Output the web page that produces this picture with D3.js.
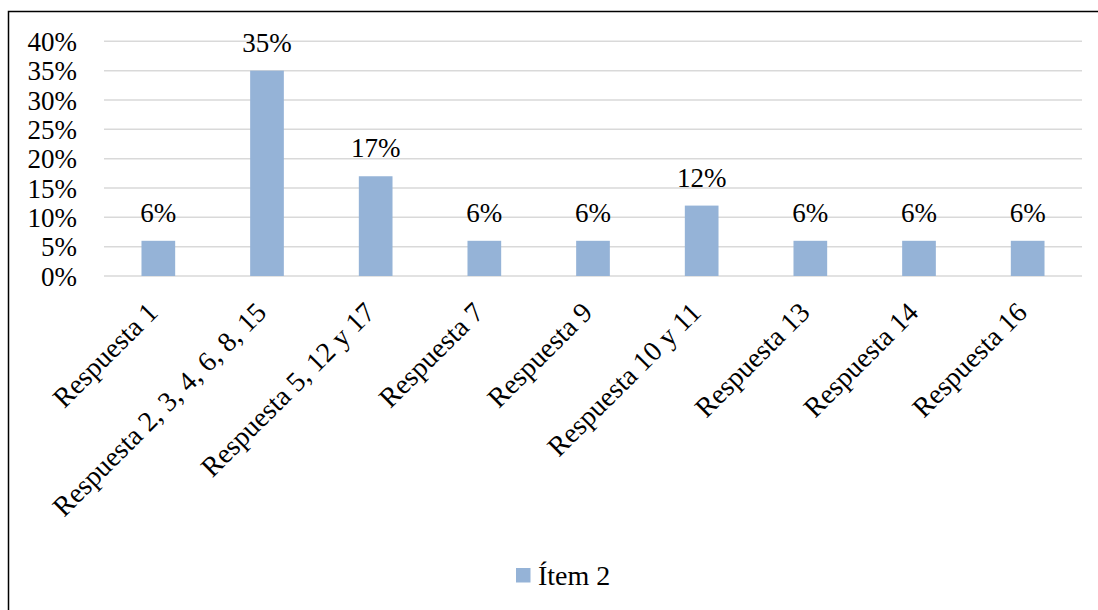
<!DOCTYPE html>
<html>
<head>
<meta charset="utf-8">
<script src="https://cdn.jsdelivr.net/npm/d3@7"></script>
<style>
  body { margin: 0; background: #fff; }
  svg { display: block; font-family: "Liberation Serif", "Times New Roman", serif; }
</style>
</head>
<body>
<svg id="chart" width="1098" height="610"></svg>
<script>
// chart data
var categories = ["Respuesta 1", "Respuesta 2, 3, 4, 6, 8, 15", "Respuesta 5, 12 y 17",
    "Respuesta 7", "Respuesta 9", "Respuesta 10 y 11", "Respuesta 13", "Respuesta 14", "Respuesta 16"];
var values = [6, 35, 17, 6, 6, 12, 6, 6, 6];
var yTicks = [0, 5, 10, 15, 20, 25, 30, 35, 40];
var seriesName = "Ítem 2";

var barColor = "#95b3d7";
var fontSize = 27;
var svg = d3.select("#chart");

// outer frame
svg.append("rect")
    .attr("x", 8.5).attr("y", 11.5)
    .attr("width", 1200).attr("height", 700)
    .attr("fill", "none").attr("stroke", "#000").attr("stroke-width", 1.5);

var x = d3.scaleBand().domain(categories).range([104, 1082]).paddingInner(0.69).paddingOuter(0.345);
var y = d3.scaleLinear().domain([0, 40]).range([276, 41.3]);

// gridlines
svg.append("g").selectAll("line")
    .data(yTicks)
    .enter().append("line")
    .attr("x1", 104).attr("x2", 1082)
    .attr("y1", function(d){ return y(d); })
    .attr("y2", function(d){ return y(d); })
    .attr("stroke", "#d9d9d9").attr("stroke-width", 1.5);

// y axis labels
var yAxis = d3.axisLeft(y).tickValues(yTicks).tickSize(0).tickPadding(0)
    .tickFormat(function(d){ return d + "%"; });
svg.append("g")
    .attr("transform", "translate(77,0)")
    .call(yAxis)
    .call(function(g){ g.select(".domain").remove(); })
    .attr("font-family", null)
    .attr("font-size", fontSize)
    .selectAll("text")
    .attr("fill", "#000")
    .attr("dy", "0.34em");

// bars
svg.append("g").selectAll("rect")
    .data(values)
    .enter().append("rect")
    .attr("x", function(d, i){ return x(categories[i]); })
    .attr("y", function(d){ return y(d); })
    .attr("width", x.bandwidth())
    .attr("height", function(d){ return y(0) - y(d); })
    .attr("fill", barColor);

// data labels
svg.append("g").selectAll("text")
    .data(values)
    .enter().append("text")
    .attr("x", function(d, i){ return x(categories[i]) + x.bandwidth() / 2; })
    .attr("y", function(d){ return y(d) - 19; })
    .attr("text-anchor", "middle")
    .attr("font-size", fontSize)
    .attr("fill", "#000")
    .text(function(d){ return d + "%"; });

// category labels, rotated
svg.append("g").selectAll("text")
    .data(categories)
    .enter().append("text")
    .attr("transform", function(d){
        var cx = x(d) + x.bandwidth() / 2 + 1;
        return "translate(" + cx + ",314) rotate(-45)";
    })
    .attr("text-anchor", "end")
    .attr("font-size", 28)
    .attr("fill", "#000")
    .text(function(d){ return d; });

// legend
var legend = svg.append("g").attr("transform", "translate(516,568)");
legend.append("rect").attr("width", 14.5).attr("height", 14.5).attr("fill", barColor);
legend.append("text").attr("x", 22).attr("y", 17)
    .attr("font-size", 28).attr("fill", "#000").text(seriesName);
</script>
</body>
</html>
